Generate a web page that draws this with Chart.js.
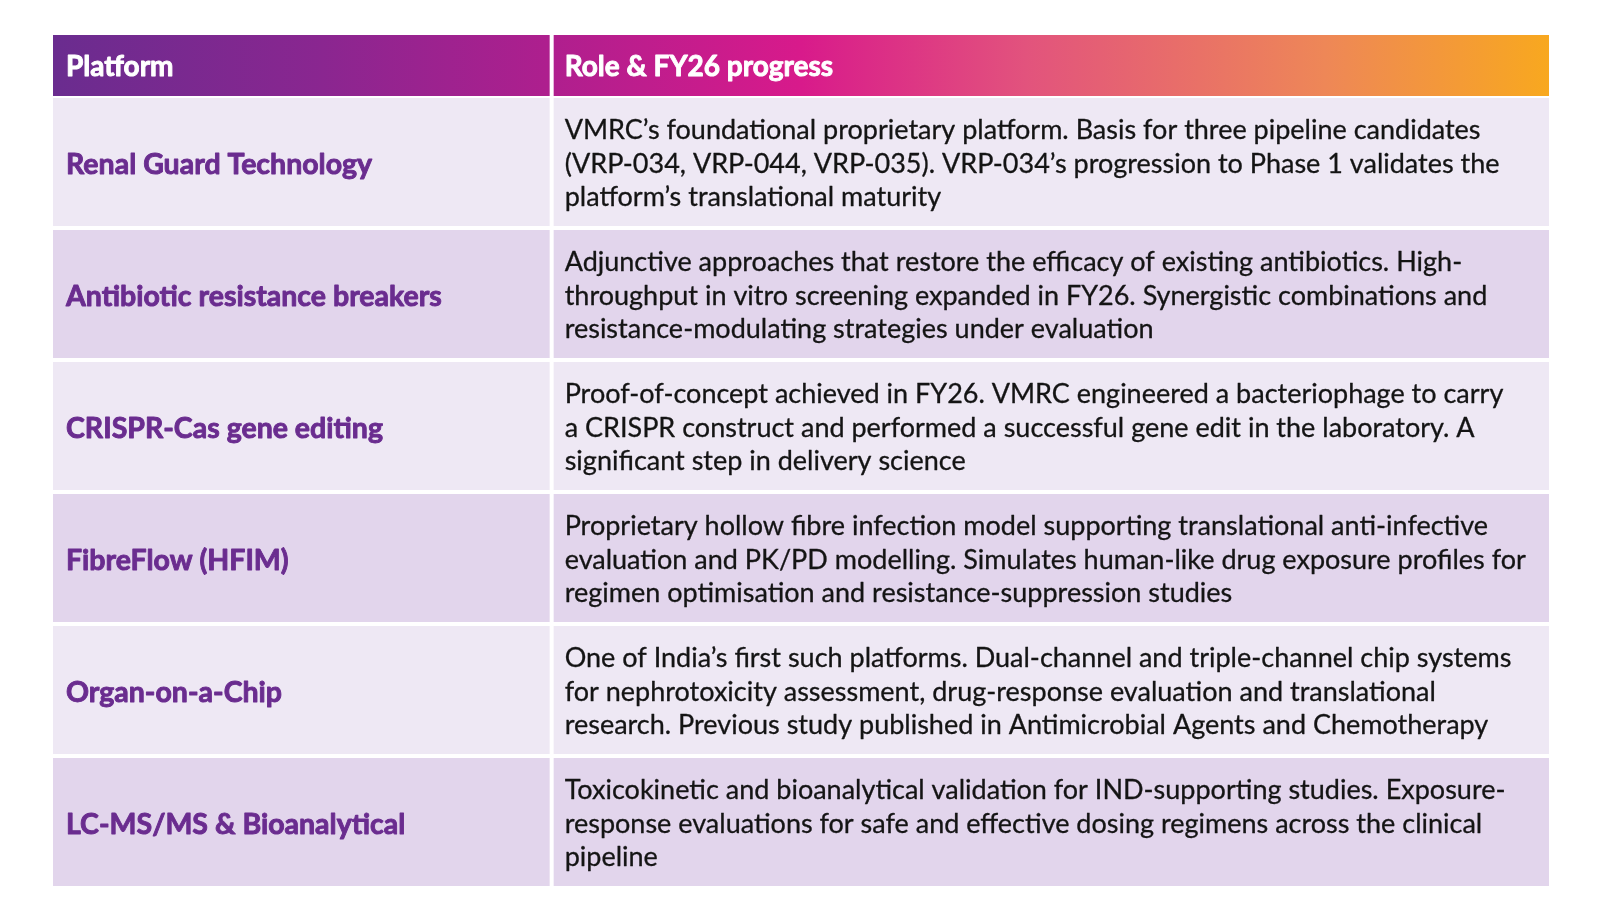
<!DOCTYPE html>
<html><head><meta charset="utf-8">
<script src="https://cdn.jsdelivr.net/npm/chart.js@4.4.1/dist/chart.umd.min.js"></script>
<style>html,body{margin:0;padding:0;background:#fff;overflow:hidden}#wrap{width:1600px;height:924px;position:relative}</style>
</head><body><div id="wrap"><canvas id="c"></canvas></div>
<script>
// ---- data ----
const headers = ['Platform', 'Role & FY26 progress'];
const platforms = [
  'Renal Guard Technology',
  'Antibiotic resistance breakers',
  'CRISPR-Cas gene editing',
  'FibreFlow (HFIM)',
  'Organ-on-a-Chip',
  'LC-MS/MS & Bioanalytical'
];
const roleLines = [
  ['VMRC\u2019s foundational proprietary platform. Basis for three pipeline candidates',
   '(VRP-034, VRP-044, VRP-035). VRP-034\u2019s progression to Phase 1 validates the',
   'platform\u2019s translational maturity'],
  ['Adjunctive approaches that restore the efficacy of existing antibiotics. High-',
   'throughput in vitro screening expanded in FY26. Synergistic combinations and',
   'resistance-modulating strategies under evaluation'],
  ['Proof-of-concept achieved in FY26. VMRC engineered a bacteriophage to carry',
   'a CRISPR construct and performed a successful gene edit in the laboratory. A',
   'significant step in delivery science'],
  ['Proprietary hollow fibre infection model supporting translational anti-infective',
   'evaluation and PK/PD modelling. Simulates human-like drug exposure profiles for',
   'regimen optimisation and resistance-suppression studies'],
  ['One of India\u2019s first such platforms. Dual-channel and triple-channel chip systems',
   'for nephrotoxicity assessment, drug-response evaluation and translational',
   'research. Previous study published in Antimicrobial Agents and Chemotherapy'],
  ['Toxicokinetic and bioanalytical validation for IND-supporting studies. Exposure-',
   'response evaluations for safe and effective dosing regimens across the clinical',
   'pipeline']
];
// relative column widths (Platform : Role)
const platformColWeight = platforms.map(() => 1);
const roleColWeight = platforms.map(() => 2);

// ---- styles ----
const ROW_LIGHT = '#EEE8F4';
const ROW_DARK = '#E2D5EC';
const rowColors = platforms.map((_, i) => i % 2 === 0 ? ROW_LIGHT : ROW_DARK);
const FONT = 'Lato, "Open Sans", sans-serif';

function heavyText(ctx, t, x, y, color, w) {
  ctx.fillStyle = color;
  ctx.strokeStyle = color;
  ctx.lineWidth = w;
  ctx.lineJoin = 'round';
  ctx.strokeText(t, x, y);
  ctx.fillText(t, x, y);
}

const tablePlugin = {
  id: 'tableText',
  beforeDatasetsDraw(chart) {
    const ctx = chart.ctx, x = chart.scales.x, a = chart.chartArea;
    const x0 = x.getPixelForValue(0), x1 = x.getPixelForValue(1), x2 = x.getPixelForValue(3);
    const top = a.top - 61, bot = a.top;
    const g = ctx.createLinearGradient(x0, 0, x2, 0);
    g.addColorStop(0, '#6A2C8F');
    g.addColorStop(0.18, '#8A2690');
    g.addColorStop(0.33, '#AE1F8E');
    g.addColorStop(0.5, '#D81A8B');
    g.addColorStop(0.65, '#E2537D');
    g.addColorStop(0.85, '#EE8757');
    g.addColorStop(1, '#F8A81F');
    ctx.save();
    ctx.fillStyle = g;
    ctx.fillRect(x0, top, x2 - x0, bot - top);
    ctx.fillStyle = '#fff';
    ctx.fillRect(x1 - 2, top, 4, bot - top);
    ctx.font = 'bold 28px ' + FONT;
    ctx.textBaseline = 'middle';
    heavyText(ctx, headers[0], x0 + 13, (top + bot) / 2 + 1, '#fff', 0.9);
    heavyText(ctx, headers[1], x1 + 13, (top + bot) / 2 + 1, '#fff', 0.9);
    ctx.restore();
  },
  afterDatasetsDraw(chart) {
    const ctx = chart.ctx, x = chart.scales.x, y = chart.scales.y;
    const x0 = x.getPixelForValue(0), x1 = x.getPixelForValue(1);
    ctx.save();
    ctx.textBaseline = 'middle';
    platforms.forEach((p, i) => {
      const yc = y.getPixelForValue(i);
      ctx.font = 'bold 28.5px ' + FONT;
      heavyText(ctx, p, x0 + 13, yc + 3, '#6A2C8F', 0.9);
      ctx.font = '27px ' + FONT;
      ctx.fillStyle = '#141414';
      ctx.strokeStyle = '#141414';
      ctx.lineWidth = 0.3;
      const lines = roleLines[i];
      lines.forEach((l, j) => {
        const ty = yc + 2 + (j - (lines.length - 1) / 2) * 33.7;
        ctx.strokeText(l, x1 + 13, ty);
        ctx.fillText(l, x1 + 13, ty);
      });
    });
    ctx.restore();
  }
};

new Chart(document.getElementById('c'), {
  type: 'bar',
  data: {
    labels: platforms,
    datasets: [
      { data: platformColWeight, backgroundColor: rowColors, borderColor: '#fff',
        borderWidth: { left: 0, right: 2, top: 0, bottom: 0 }, borderSkipped: false },
      { data: roleColWeight, backgroundColor: rowColors, borderColor: '#fff',
        borderWidth: { left: 2, right: 0, top: 0, bottom: 0 }, borderSkipped: false }
    ]
  },
  options: {
    indexAxis: 'y',
    responsive: true,
    maintainAspectRatio: false,
    animation: false,
    layout: { padding: { left: 53, right: 51, top: 96, bottom: 36 } },
    datasets: { bar: { categoryPercentage: 1, barPercentage: 0.97 } },
    scales: {
      x: { stacked: true, min: 0, max: 3, display: false },
      y: { stacked: true, display: false }
    },
    plugins: { legend: { display: false }, tooltip: { enabled: false } }
  },
  plugins: [tablePlugin]
});
</script>
</body></html>
